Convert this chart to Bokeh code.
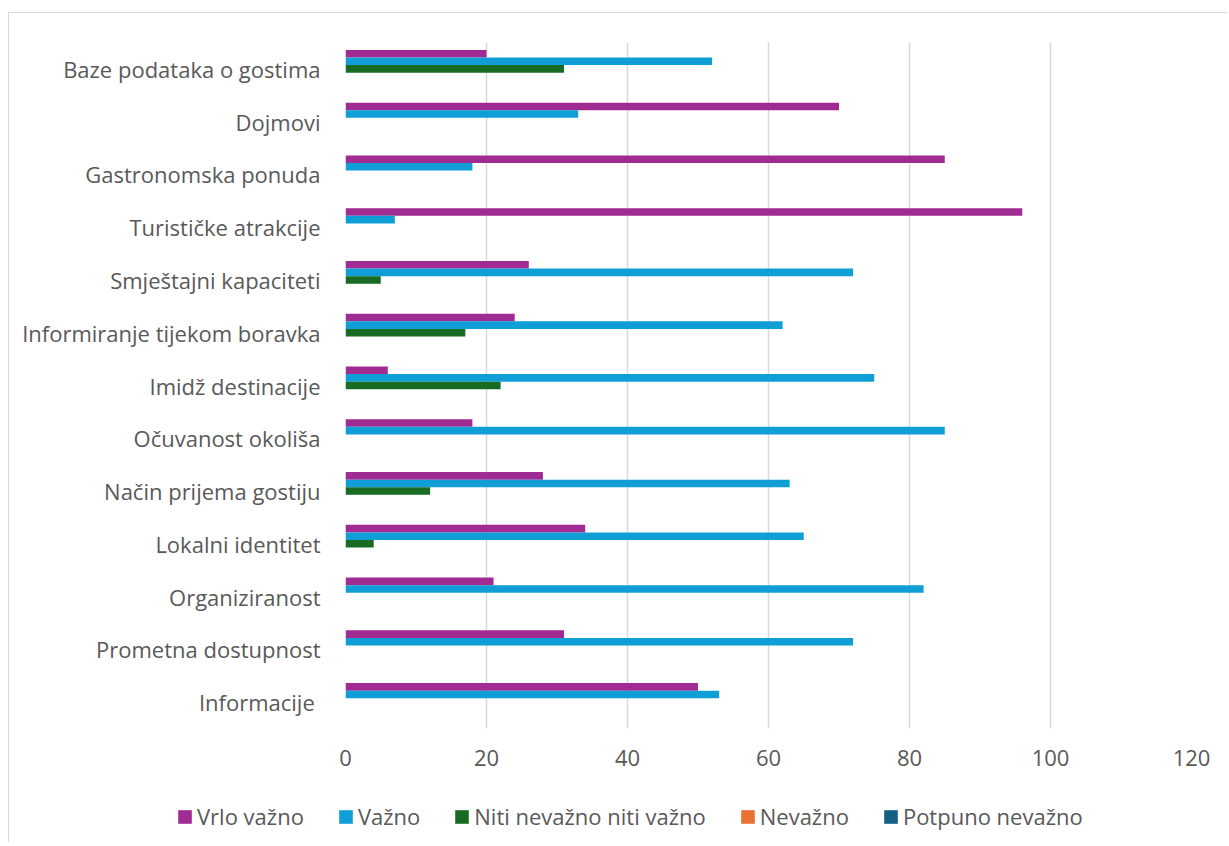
from bokeh.plotting import figure
from bokeh.layouts import column
from bokeh.models import ColumnDataSource, FactorRange, Range1d, Legend, LegendItem, FixedTicker
from bokeh.transform import dodge
from bokeh.embed import file_html
from bokeh.resources import INLINE

categories = ["Baze podataka o gostima", "Dojmovi", "Gastronomska ponuda", "Turističke atrakcije",
              "Smještajni kapaciteti", "Informiranje tijekom boravka", "Imidž destinacije",
              "Očuvanost okoliša", "Način prijema gostiju", "Lokalni identitet", "Organiziranost",
              "Prometna dostupnost", "Informacije "]
vrlo_vazno = [20, 70, 85, 96, 26, 24, 6, 18, 28, 34, 21, 31, 50]
vazno = [52, 33, 18, 7, 72, 62, 75, 85, 63, 65, 82, 72, 53]
niti = [31, 0, 0, 0, 5, 17, 22, 0, 12, 4, 0, 0, 0]
nevazno = [0, 0, 0, 0, 0, 0, 0, 0, 0, 0, 0, 0, 0]
potpuno_nevazno = [0, 0, 0, 0, 0, 0, 0, 0, 0, 0, 0, 0, 0]
series_names = ["Vrlo važno", "Važno", "Niti nevažno niti važno", "Nevažno", "Potpuno nevažno"]
x_ticks = [0, 20, 40, 60, 80, 100, 120]

source = ColumnDataSource(dict(cat=categories, s0=vrlo_vazno, s1=vazno, s2=niti, s3=nevazno, s4=potpuno_nevazno))

FONT = "Open Sans"
TXT = "#595959"
colors = ["#A02B93", "#0F9ED5", "#196B24", "#E97132", "#156082"]

p = figure(y_range=FactorRange(factors=categories[::-1]), x_range=Range1d(0, 120),
           width=1218, height=765, output_backend="svg", toolbar_location=None,
           min_border_left=336, min_border_right=36, min_border_top=29, min_border_bottom=50)
p.frame_align = False

h = 0.144
offsets = [2 * h, h, 0.0, -h, -2 * h]
for i, (name, col, off) in enumerate(zip(series_names, colors, offsets)):
    p.hbar(y=dodge("cat", off, range=p.y_range), left=0, right="s%d" % i, height=h,
           fill_color=col, line_color=None, source=source)

p.xaxis.ticker = FixedTicker(ticks=x_ticks)
p.xgrid.ticker = FixedTicker(ticks=x_ticks)
p.xgrid.grid_line_color = "#d9d9d9"
p.xgrid.grid_line_width = 1.5
p.ygrid.grid_line_color = None
p.outline_line_color = None

for ax in (p.xaxis[0], p.yaxis[0]):
    ax.axis_line_color = None
    ax.major_tick_line_color = None
    ax.minor_tick_line_color = None
    ax.major_label_text_font = FONT
    ax.major_label_text_font_size = "22px"
    ax.major_label_text_color = TXT
p.xaxis.major_label_standoff = 15
p.yaxis.major_label_standoff = 19

# legend strip below the chart (own frame spanning the full width)
pl = figure(width=1218, height=64, output_backend="svg", toolbar_location=None,
            x_range=Range1d(0, 1), y_range=Range1d(0, 1), x_axis_type=None, y_axis_type=None,
            min_border=0)
pl.frame_align = False
pl.outline_line_color = None
pl.xgrid.grid_line_color = None
pl.ygrid.grid_line_color = None
items = []
for i, (name, col) in enumerate(zip(series_names, colors)):
    # same series data, kept outside the strip's visible range: only the legend swatch shows
    r = pl.hbar(y=-10, left=0, right="s%d" % i, height=0.1, fill_color=col, line_color=None,
                source=source)
    items.append(LegendItem(label=name, renderers=[r]))
legend = Legend(items=items, orientation="horizontal", location=(167, 11),
                glyph_width=17, glyph_height=17, label_standoff=4, spacing=33,
                padding=0, margin=0, background_fill_alpha=0, border_line_color=None,
                label_text_font=FONT, label_text_font_size="22px", label_text_color=TXT)
pl.add_layout(legend)

layout = column(p, pl, spacing=0)
layout.styles = {"margin-left": "8px", "margin-top": "12px",
                 "border-left": "1px solid #d9d9d9", "border-top": "1px solid #d9d9d9"}

open("out.html", "w").write(file_html(layout, INLINE))
